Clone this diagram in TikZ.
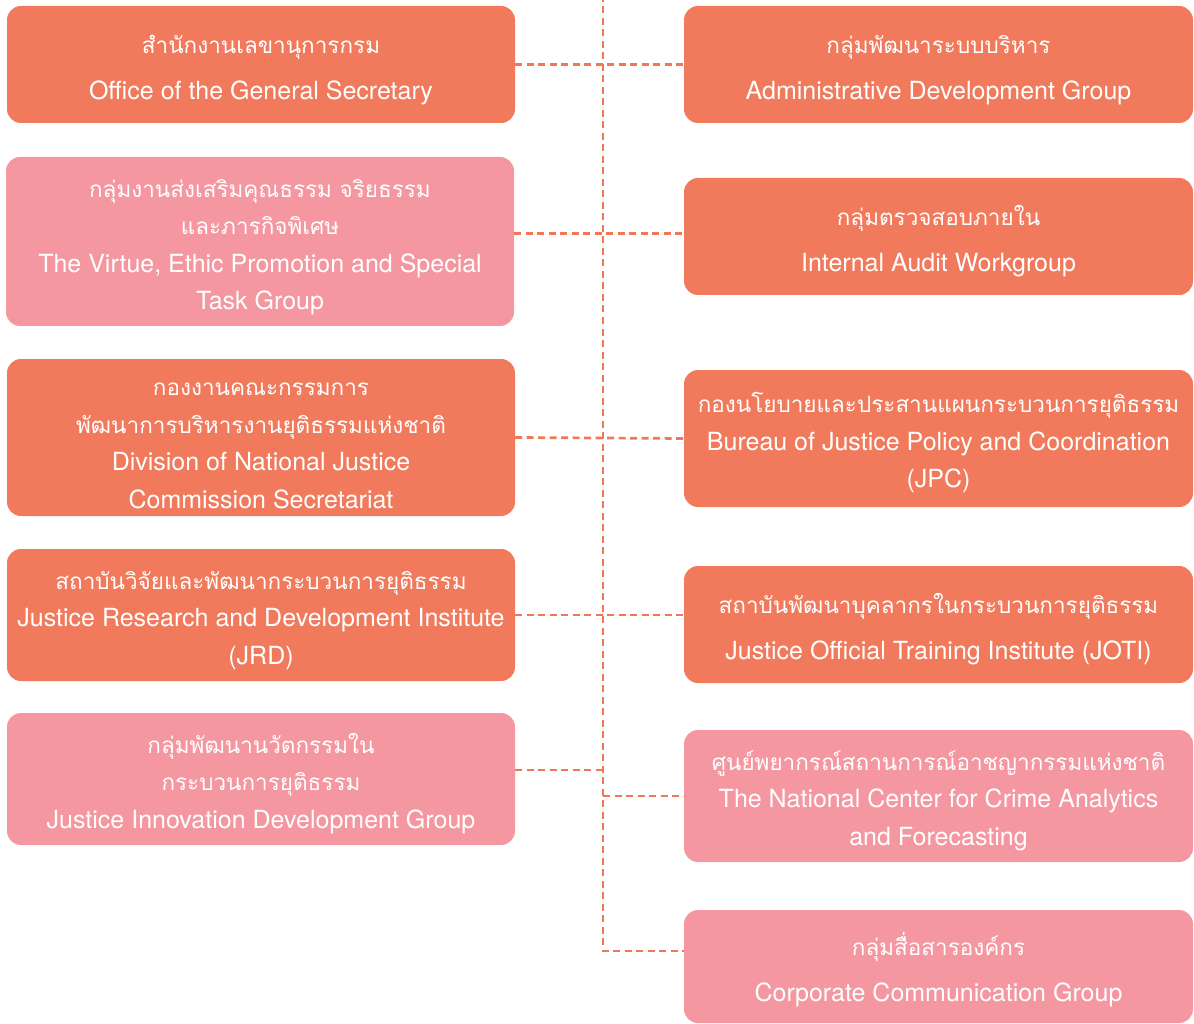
\documentclass[tikz,border=0pt]{standalone}
\usepackage{fontspec}
\setmainfont{TeX Gyre Heros}
\newfontfamily\thaifont[Script=Thai,Scale=0.9]{Loma}
\definecolor{ocre}{RGB}{241,122,92}
\definecolor{rose}{RGB}{244,151,160}
\definecolor{dashline}{RGB}{243,118,86}
\newcommand\headstrut{\rule{0pt}{29pt}}

\begin{document}
\begin{tikzpicture}[x=1pt,y=1pt,
  unit/.style={rounded corners=14pt,inner sep=0pt,text=white,align=center,
    minimum height=117pt,font=\fontsize{25}{37.5}\selectfont},
  leftunit/.style={unit,minimum width=508pt},
  rightunit/.style={unit,minimum width=509pt},
  twoline/.style={font=\fontsize{25}{46}\selectfont},
  link/.style={dashline,line width=2.7pt,dash pattern=on 7pt off 4.5pt}]
\useasboundingbox (0,0) rectangle (1194,-1024);

\node[leftunit,fill=ocre,twoline] (office) at (261,-64.5)
  {\headstrut{\thaifont สำนักงานเลขานุการกรม}\\Office of the General Secretary};
\node[leftunit,fill=rose,minimum height=169pt] (virtue) at (260,-241.5)
  {\headstrut{\thaifont กลุ่มงานส่งเสริมคุณธรรม จริยธรรม}\\{\thaifont และภารกิจพิเศษ}\\The Virtue, Ethic Promotion and Special\\Task Group};
\node[leftunit,fill=ocre,minimum height=157pt] (division) at (261,-437.5)
  {\headstrut{\thaifont กองงานคณะกรรมการ}\\{\thaifont พัฒนาการบริหารงานยุติธรรมแห่งชาติ}\\Division of National Justice\\Commission Secretariat};
\node[leftunit,fill=ocre,minimum height=132pt] (jrd) at (261,-615)
  {\headstrut{\thaifont สถาบันวิจัยและพัฒนากระบวนการยุติธรรม}\\Justice Research and Development Institute\\(JRD)};
\node[leftunit,fill=rose,minimum height=132pt] (innov) at (261,-779)
  {\headstrut{\thaifont กลุ่มพัฒนานวัตกรรมใน}\\{\thaifont กระบวนการยุติธรรม}\\Justice Innovation Development Group};

\node[rightunit,fill=ocre,twoline] (admin) at (938.5,-64.5)
  {\headstrut{\thaifont กลุ่มพัฒนาระบบบริหาร}\\Administrative Development Group};
\node[rightunit,fill=ocre,twoline] (audit) at (938.5,-236.5)
  {\headstrut{\thaifont กลุ่มตรวจสอบภายใน}\\Internal Audit Workgroup};
\node[rightunit,fill=ocre,minimum height=137pt] (jpc) at (938.5,-438.5)
  {\headstrut{\thaifont กองนโยบายและประสานแผนกระบวนการยุติธรรม}\\Bureau of Justice Policy and Coordination\\(JPC)};
\node[rightunit,fill=ocre,twoline] (joti) at (938.5,-624.5)
  {\headstrut{\thaifont สถาบันพัฒนาบุคลากรในกระบวนการยุติธรรม}\\Justice Official Training Institute (JOTI)};
\node[rightunit,fill=rose,minimum height=132pt] (crime) at (938.5,-796)
  {\headstrut{\thaifont ศูนย์พยากรณ์สถานการณ์อาชญากรรมแห่งชาติ}\\The National Center for Crime Analytics\\and Forecasting};
\node[rightunit,fill=rose,twoline,minimum height=113pt] (corp) at (938.5,-966.5)
  {\headstrut{\thaifont กลุ่มสื่อสารองค์กร}\\Corporate Communication Group};

\coordinate (top) at (603,5);
\coordinate (bend) at (603,-951);
\draw[link] (top) -- (bend) -- (bend -| corp.west);
\draw[link] (office.east) -- (admin.west);
\draw[link] ([yshift=8pt]virtue.east) -- ([yshift=8pt]virtue.east -| audit.west);
\draw[link] (division.east) -- (jpc.west);
\draw[link] (jrd.east) -- (jrd.east -| joti.west);
\draw[link] ([yshift=9pt]innov.east) -- ([yshift=9pt]innov.east -| top);
\draw[link] (crime.west -| top) -- (crime.west);
\end{tikzpicture}
\end{document}
